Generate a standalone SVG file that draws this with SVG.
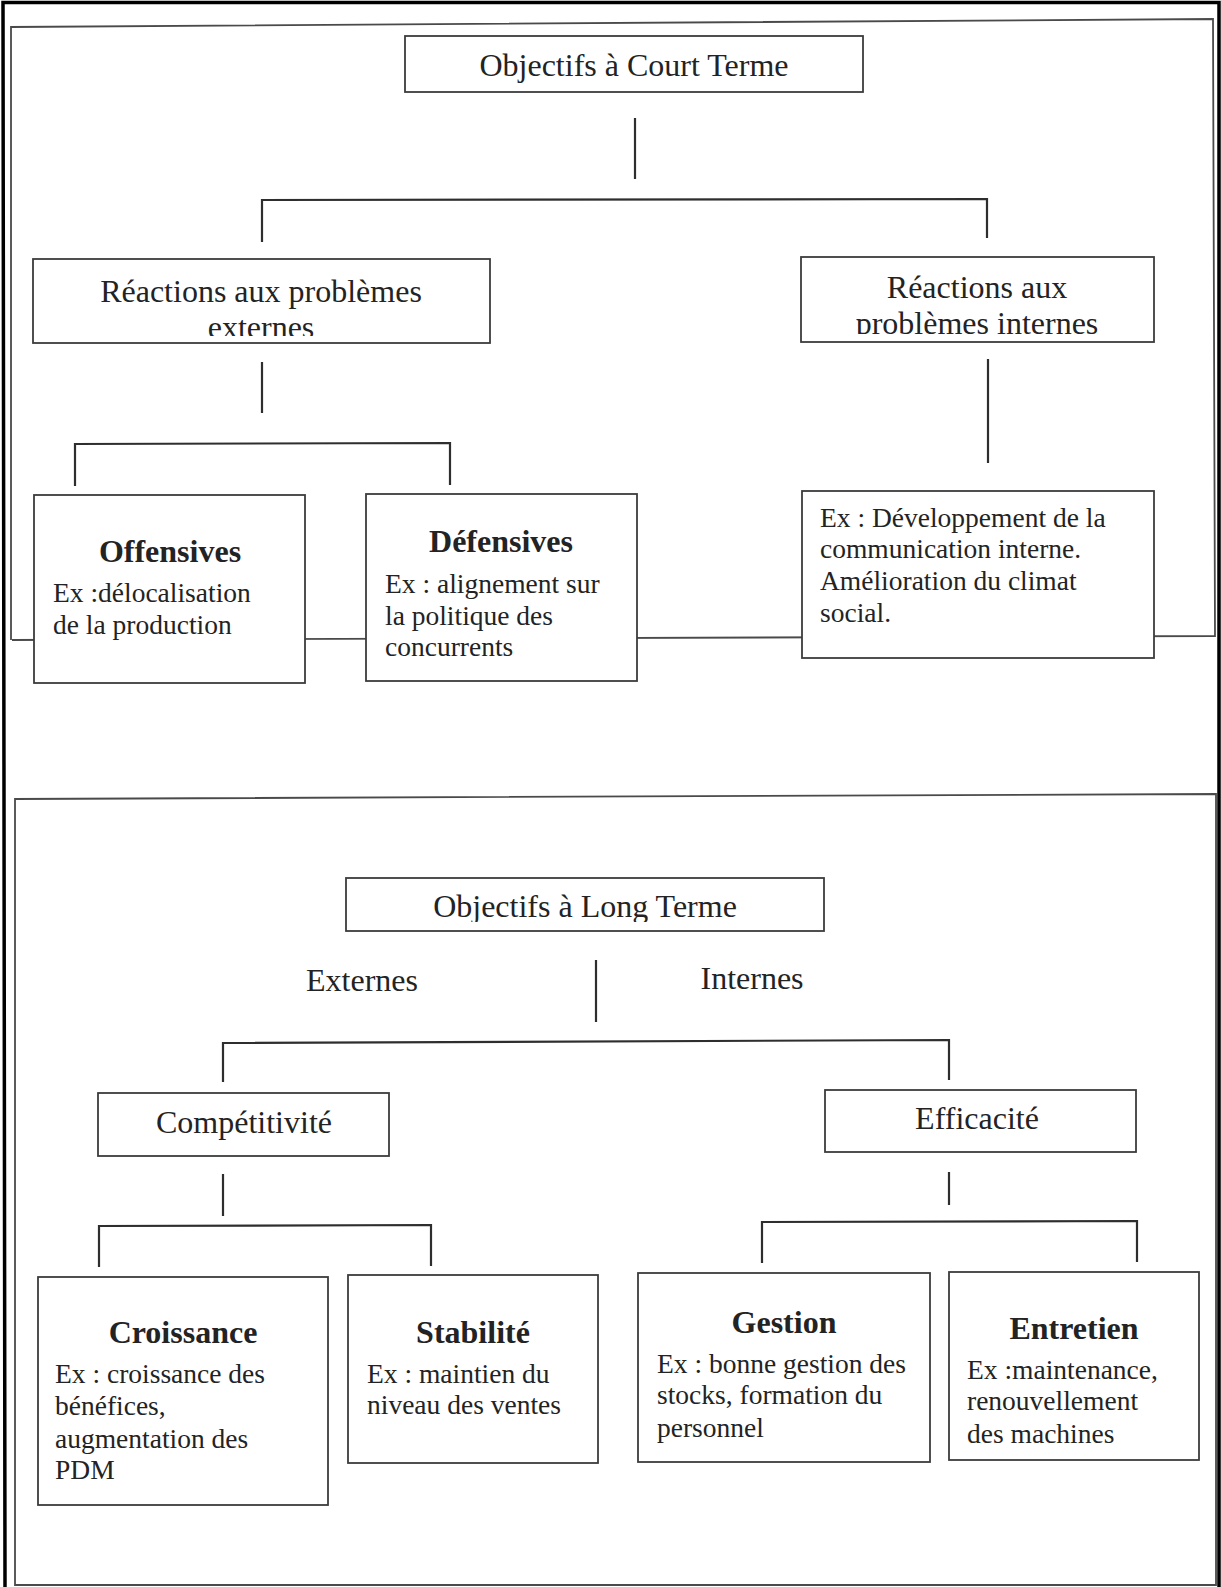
<svg xmlns="http://www.w3.org/2000/svg" width="1221" height="1587" viewBox="0 0 1221 1587">
  <style>
    .box { fill: #ffffff; stroke: #3c3c3c; stroke-width: 1.8; }
    .frame { fill: none; stroke: #4a4a4a; stroke-width: 1.8; }
    .conn { fill: none; stroke: #2e2e2e; stroke-width: 2.2; }
    .head { font-family: "Liberation Serif", "Times New Roman", serif; font-size: 32px; fill: #232323; text-anchor: middle; }
    .title { font-family: "Liberation Serif", "Times New Roman", serif; font-size: 32px; font-weight: bold; fill: #232323; text-anchor: middle; }
    .body { font-family: "Liberation Serif", "Times New Roman", serif; font-size: 27.5px; fill: #232323; }
    .lbl { font-family: "Liberation Serif", "Times New Roman", serif; font-size: 32px; fill: #232323; text-anchor: middle; }
  </style>
  <defs>
    <clipPath id="clipExt"><rect x="34" y="260" width="455" height="76"/></clipPath>
    <clipPath id="clipInt"><rect x="802" y="258" width="351" height="76"/></clipPath>
    <clipPath id="clipLong"><rect x="347" y="880" width="476" height="42"/></clipPath>
  </defs>
  <rect x="0" y="0" width="1221" height="1587" fill="#ffffff"/>

  <!-- page border and frames -->
  <g id="frames">
    <path d="M5,1587 L3,2.5 L1219,2.5 L1219,1587" fill="none" stroke="#000" stroke-width="3.5"/>
    <path class="frame" d="M11,640 L11,27 L1213,19 L1215,636 L12,640"/>
    <path class="frame" d="M15,1586 L15,799 L1216,794 L1216,1586 M15,1585 L1216,1585"/>
  </g>

  <!-- connectors -->
  <g id="connectors">
    <path class="conn" d="M635,118 L635,179"/>
    <path class="conn" d="M262,242 L262,200 L987,199 L987,238"/>
    <path class="conn" d="M262,362 L262,413"/>
    <path class="conn" d="M75,486 L75,444 L450,443 L450,485"/>
    <path class="conn" d="M988,359 L988,463"/>
    <path class="conn" d="M596,960 L596,1022"/>
    <path class="conn" d="M223,1082 L223,1043 L949,1040 L949,1080"/>
    <path class="conn" d="M223,1174 L223,1216"/>
    <path class="conn" d="M949,1172 L949,1205"/>
    <path class="conn" d="M99,1267 L99,1226 L431,1225 L431,1266"/>
    <path class="conn" d="M762,1263 L762,1222 L1137,1221 L1137,1262"/>
  </g>

  <!-- nodes -->
  <g id="n-court">
    <rect class="box" x="405" y="36" width="458" height="56"/>
    <text class="head" x="634" y="76">Objectifs à Court Terme</text>
  </g>
  <g id="n-ext">
    <rect class="box" x="33" y="259" width="457" height="84"/>
    <g clip-path="url(#clipExt)">
      <text class="head" x="261" y="302">Réactions aux problèmes</text>
      <text class="head" x="261" y="338">externes</text>
    </g>
  </g>
  <g id="n-int">
    <rect class="box" x="801" y="257" width="353" height="85"/>
    <g clip-path="url(#clipInt)">
      <text class="head" x="977" y="298">Réactions aux</text>
      <text class="head" x="977" y="334">problèmes internes</text>
    </g>
  </g>
  <g id="n-offensives">
    <rect class="box" x="34" y="495" width="271" height="188"/>
    <text class="title" x="170" y="562">Offensives</text>
    <text class="body" x="53" y="602">Ex :délocalisation</text>
    <text class="body" x="53" y="634">de la production</text>
  </g>
  <g id="n-defensives">
    <rect class="box" x="366" y="494" width="271" height="187"/>
    <text class="title" x="501" y="552">Défensives</text>
    <text class="body" x="385" y="593">Ex : alignement sur</text>
    <text class="body" x="385" y="625">la politique des</text>
    <text class="body" x="385" y="656">concurrents</text>
  </g>
  <g id="n-interne-ex">
    <rect class="box" x="802" y="491" width="352" height="167"/>
    <text class="body" x="820" y="527">Ex : Développement de la</text>
    <text class="body" x="820" y="558">communication interne.</text>
    <text class="body" x="820" y="590">Amélioration du climat</text>
    <text class="body" x="820" y="622">social.</text>
  </g>

  <g id="n-long">
    <rect class="box" x="346" y="878" width="478" height="53"/>
    <g clip-path="url(#clipLong)">
      <text class="head" x="585" y="917">Objectifs à Long Terme</text>
    </g>
  </g>
  <g id="l-externes">
    <text class="lbl" x="362" y="991">Externes</text>
  </g>
  <g id="l-internes">
    <text class="lbl" x="752" y="989">Internes</text>
  </g>
  <g id="n-competitivite">
    <rect class="box" x="98" y="1093" width="291" height="63"/>
    <text class="lbl" x="244" y="1133">Compétitivité</text>
  </g>
  <g id="n-efficacite">
    <rect class="box" x="825" y="1090" width="311" height="62"/>
    <text class="lbl" x="977" y="1129">Efficacité</text>
  </g>
  <g id="n-croissance">
    <rect class="box" x="38" y="1277" width="290" height="228"/>
    <text class="title" x="183" y="1343">Croissance</text>
    <text class="body" x="55" y="1383">Ex : croissance des</text>
    <text class="body" x="55" y="1415">bénéfices,</text>
    <text class="body" x="55" y="1448">augmentation des</text>
    <text class="body" x="55" y="1479">PDM</text>
  </g>
  <g id="n-stabilite">
    <rect class="box" x="348" y="1275" width="250" height="188"/>
    <text class="title" x="473" y="1343">Stabilité</text>
    <text class="body" x="367" y="1383">Ex : maintien du</text>
    <text class="body" x="367" y="1414">niveau des ventes</text>
  </g>
  <g id="n-gestion">
    <rect class="box" x="638" y="1273" width="292" height="189"/>
    <text class="title" x="784" y="1333">Gestion</text>
    <text class="body" x="657" y="1373">Ex : bonne gestion des</text>
    <text class="body" x="657" y="1404">stocks, formation du</text>
    <text class="body" x="657" y="1437">personnel</text>
  </g>
  <g id="n-entretien">
    <rect class="box" x="949" y="1272" width="250" height="188"/>
    <text class="title" x="1074" y="1339">Entretien</text>
    <text class="body" x="967" y="1379">Ex :maintenance,</text>
    <text class="body" x="967" y="1410">renouvellement</text>
    <text class="body" x="967" y="1443">des machines</text>
  </g>
</svg>
